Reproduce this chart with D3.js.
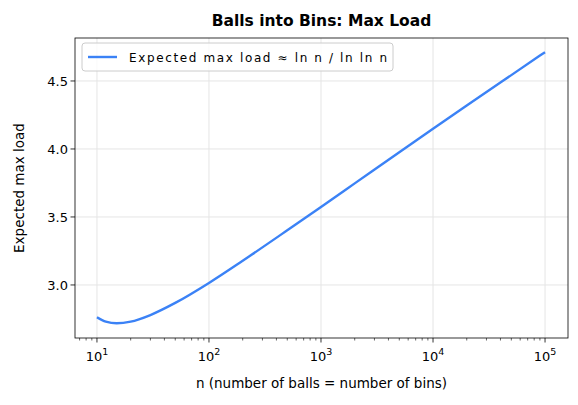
<!DOCTYPE html>
<html><head><meta charset="utf-8">
<script src="https://cdn.jsdelivr.net/npm/d3@7"></script>
<style>body{margin:0;background:#fff}text{font-family:"DejaVu Sans",sans-serif}</style>
</head><body><svg id="c" width="578" height="405"></svg>
<script>
const nValues=[10,12,15,20,30,50,100,200,500,1000,2000,5000,10000,20000,50000,100000];
const maxLoad=[2.763,2.730,2.718,2.730,2.779,2.868,3.015,3.178,3.402,3.574,3.747,3.976,4.148,4.319,4.543,4.712];
const xTicks=[10,100,1000,10000,100000];
const yTicks=[3.0,3.5,4.0,4.5];
const svg=d3.select("#c");
const L=75,R=568,T=38,B=338;
const x=d3.scaleLog().domain([Math.pow(10,0.804),Math.pow(10,5.205)]).range([L,R]);
const y=d3.scaleLinear().domain([2.61,4.816]).range([B,T]);
const g=svg.append("g");
g.selectAll(".gx").data(xTicks).enter().append("line").attr("x1",d=>x(d)).attr("x2",d=>x(d)).attr("y1",T).attr("y2",B).attr("stroke","#e5e5e5");
g.selectAll(".gy").data(yTicks).enter().append("line").attr("y1",d=>y(d)).attr("y2",d=>y(d)).attr("x1",L).attr("x2",R).attr("stroke","#e5e5e5");
const minor=[];for(let e=0;e<6;e++)for(let k=2;k<10;k++){const v=k*Math.pow(10,e);if(v>x.domain()[0]&&v<x.domain()[1])minor.push(v);}
g.selectAll(".mx").data(minor).enter().append("line").attr("x1",d=>x(d)).attr("x2",d=>x(d)).attr("y1",B).attr("y2",B+2.5).attr("stroke","#000").attr("stroke-width",0.6);
g.selectAll(".tx").data(xTicks).enter().append("line").attr("x1",d=>x(d)).attr("x2",d=>x(d)).attr("y1",B).attr("y2",B+4.5).attr("stroke","#000").attr("stroke-width",0.8);
const xl=g.selectAll(".xl").data(xTicks).enter().append("text").attr("x",d=>x(d)).attr("y",B+23).attr("text-anchor","middle").attr("font-size",13);
xl.append("tspan").text("10");
xl.append("tspan").attr("dy",-6).attr("font-size",9.5).text(d=>Math.round(Math.log10(d)));
g.selectAll(".ty").data(yTicks).enter().append("line").attr("y1",d=>y(d)).attr("y2",d=>y(d)).attr("x1",L-4.5).attr("x2",L).attr("stroke","#000").attr("stroke-width",0.8);
g.selectAll(".yl").data(yTicks).enter().append("text").attr("x",L-7).attr("y",d=>y(d)+5).attr("text-anchor","end").attr("font-size",13).text(d=>d.toFixed(1));
const line=d3.line().x((d,i)=>x(nValues[i])).y(d=>y(d)).curve(d3.curveMonotoneX);
g.append("path").attr("d",line(maxLoad)).attr("fill","none").attr("stroke","#3b82f6").attr("stroke-width",2.4);
g.append("rect").attr("x",L).attr("y",T).attr("width",R-L).attr("height",B-T).attr("fill","none").attr("stroke","#000").attr("stroke-width",0.8);
svg.append("text").attr("x",(L+R)/2).attr("y",26).attr("text-anchor","middle").attr("font-size",15.5).attr("font-weight","bold").text("Balls into Bins: Max Load");
svg.append("text").attr("x",(L+R)/2).attr("y",388).attr("text-anchor","middle").attr("font-size",13.5).text("n (number of balls = number of bins)");
svg.append("text").attr("transform",`translate(24,${(T+B)/2}) rotate(-90)`).attr("text-anchor","middle").attr("font-size",13.5).text("Expected max load");
const lg=svg.append("g");
lg.append("rect").attr("x",82).attr("y",43).attr("width",311).attr("height",28).attr("rx",3).attr("fill","#fff").attr("fill-opacity",0.8).attr("stroke","#ccc");
lg.append("line").attr("x1",88).attr("x2",117).attr("y1",57).attr("y2",57).attr("stroke","#3b82f6").attr("stroke-width",2.4);
lg.append("text").attr("x",129).attr("y",61.5).attr("font-size",12).attr("textLength",258).text("Expected max load ≈ ln n / ln ln n");
</script></body></html>
